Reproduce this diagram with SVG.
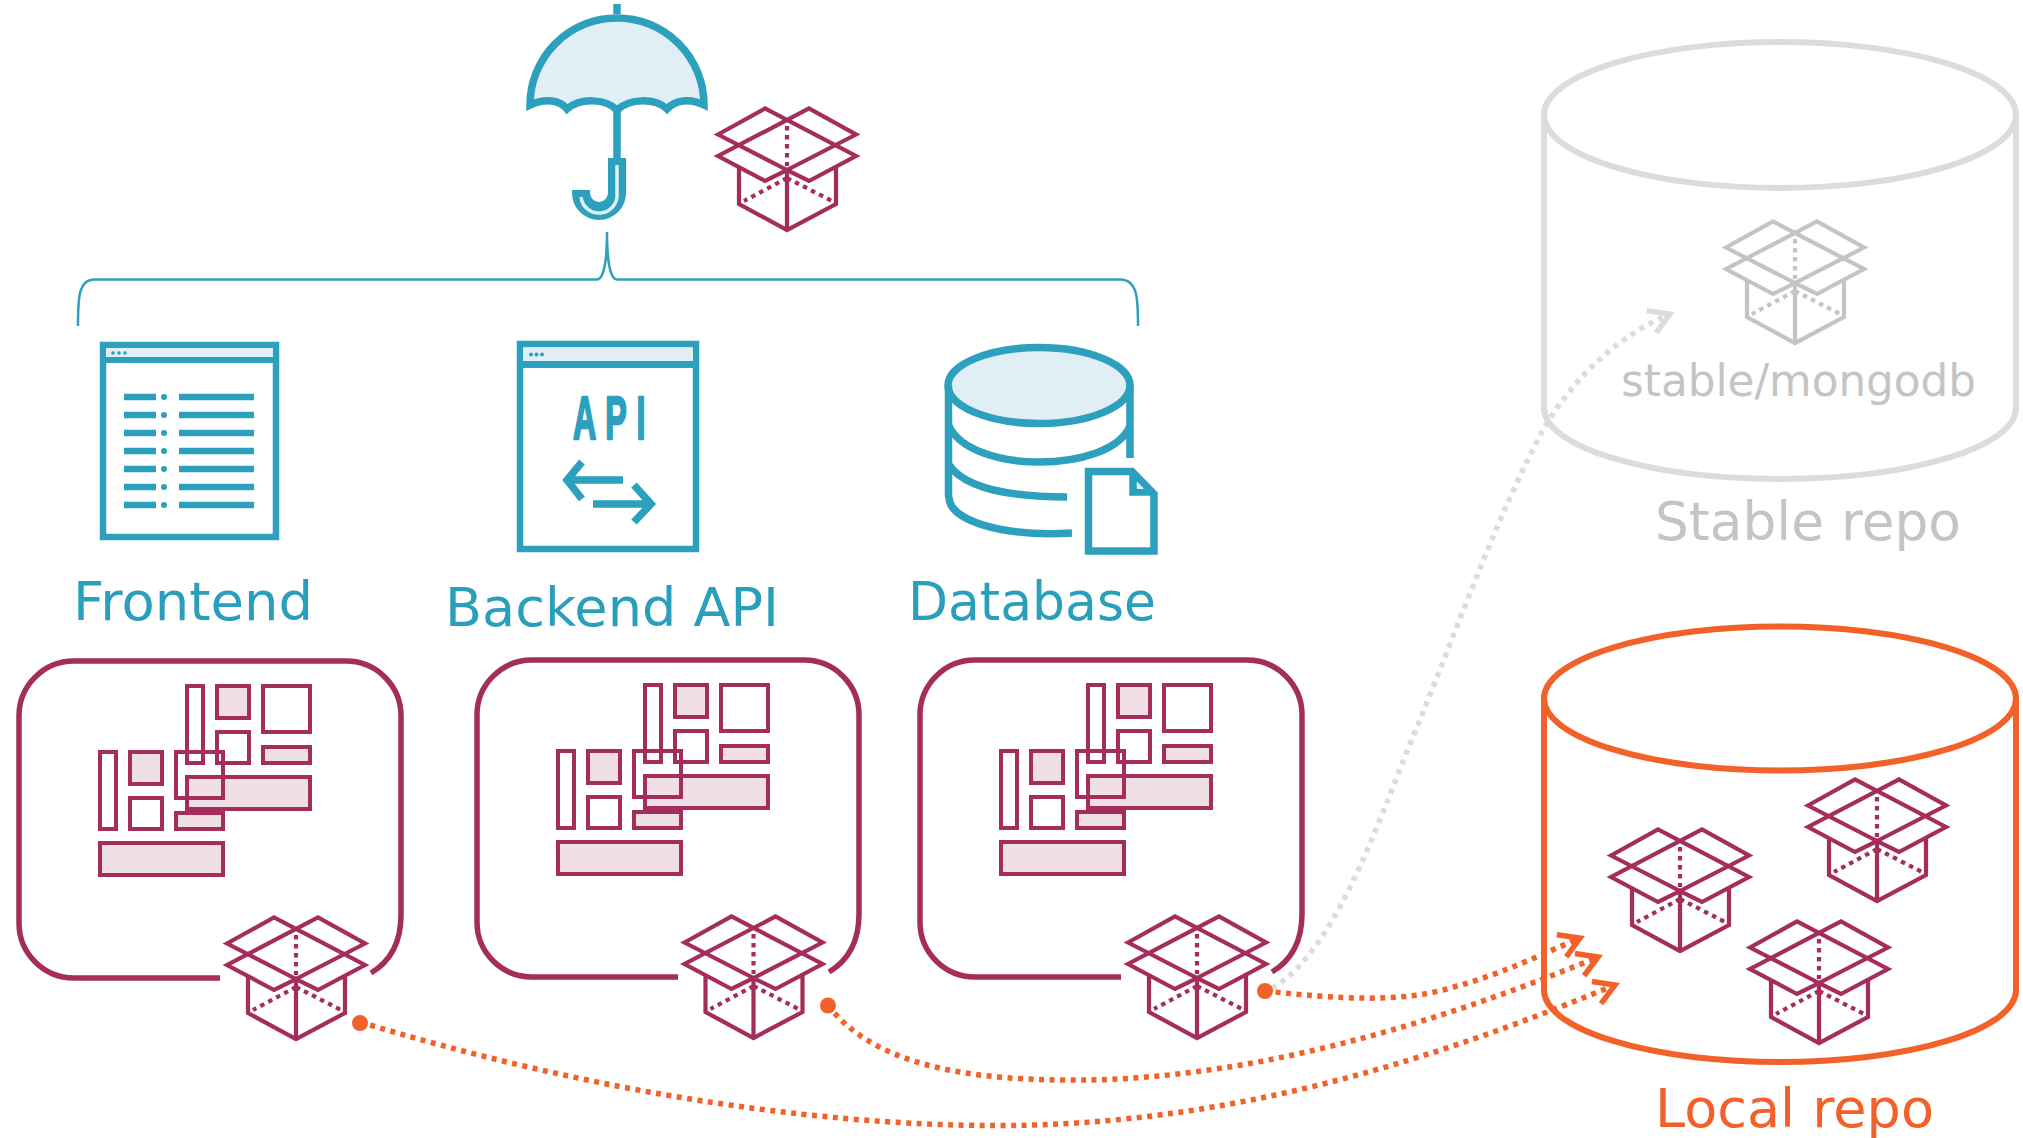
<svg xmlns="http://www.w3.org/2000/svg" xmlns:xlink="http://www.w3.org/1999/xlink" width="2023" height="1138" viewBox="0 0 2023 1138">
<style>
text{font-family:"DejaVu Sans","Liberation Sans",sans-serif}
.lbl{font-size:52.5px;fill:#2a9fbc}
.teal{fill:none;stroke:#2ca0bd}
.light{fill:#dfeff5}
.tf{fill:#2ca0bd}
.gl rect{fill:#fff;stroke:#a52d5c;stroke-width:4;fill-opacity:0}
.gl rect.p{fill:#f0e0e6;fill-opacity:1}
.panel{fill:none;stroke:#a52d5c;stroke-width:5.5}
.or{fill:none;stroke:#f26129;stroke-width:5.5;stroke-dasharray:5 5.5}
.gy{fill:none;stroke:#dcdcdc;stroke-width:5.5;stroke-dasharray:5 5.5}
.dot{fill:#f26129}
.cyl{fill:none;stroke-width:6}
</style>
<defs>
<g id="box" fill="none" stroke-width="4.2" stroke-linejoin="miter">
<path d="M-69 14.5L-22 -11.5L69 36L22 61L0 50L-22 61L-69 36L22 -11.5L69 14.5L0 50Z"/>
<path d="M-48 47V84L0 110L49 84V47M0 50V110"/>
<path d="M0 6V46M0 58L-43 81M0 58L45 81" stroke-dasharray="4.500 4.500"/>
</g>
<g id="glyph" class="gl">
<rect x="187" y="686" width="16" height="77"/>
<rect class="p" x="217" y="686" width="32" height="32"/>
<rect x="263" y="686" width="47" height="46"/>
<rect x="217" y="732" width="32" height="31"/>
<rect class="p" x="263" y="747" width="47" height="16"/>
<rect class="p" x="187" y="777" width="123" height="32"/>
<rect x="100" y="752" width="16" height="77"/>
<rect class="p" x="130" y="752" width="32" height="32"/>
<rect x="176" y="752" width="47" height="46"/>
<rect x="130" y="798" width="32" height="31"/>
<rect class="p" x="176" y="813" width="47" height="16"/>
<rect class="p" x="100" y="843" width="123" height="32"/>
</g>
<path id="panel" class="panel" d="M220 978H75A55 55 0 0 1 19 923V717A55 55 0 0 1 75 661H346A55 55 0 0 1 401 717V915Q401 955 371 973"/>
<marker id="ah" markerUnits="userSpaceOnUse" markerWidth="36" markerHeight="36" refX="30" refY="18" orient="auto" viewBox="0 0 36 36"><path d="M10 6L30 18L10 30" fill="none" stroke="#f26129" stroke-width="5.5"/></marker>
<marker id="ahg" markerUnits="userSpaceOnUse" markerWidth="36" markerHeight="36" refX="30" refY="18" orient="auto" viewBox="0 0 36 36"><path d="M10 6L30 18L10 30" fill="none" stroke="#dcdcdc" stroke-width="5.5"/></marker>
</defs>

<g id="umbrella">
<path class="light" d="M530 105A87 87 0 0 1 704 105C690 98 675 100 667 109C655 98 630 98 617 110C605 98 580 98 567 109C560 100 545 98 530 105Z"/>
<path class="teal" stroke-width="7.500" d="M530 105A87 87 0 0 1 704 105C690 98 675 100 667 109C655 98 630 98 617 110C605 98 580 98 567 109C560 100 545 98 530 105Z"/>
<path class="teal" stroke-width="7.500" d="M617 4V14M617 110V160"/>
<path class="teal" stroke-width="18" d="M617 158V193A18 18 0 0 1 581 193V190"/>
<path fill="none" stroke="#dfeff5" stroke-width="3.500" d="M617 165V193A18 18 0 0 1 581 197"/>
</g>
<g id="chart-box"><use href="#box" x="787" y="120" stroke="#a52d5c"/></g>
<g id="brace"><path class="teal" stroke-width="2.500" d="M78 326C78 300 78 279 95 279.500H597C603 279.500 607 265 607 232C607 265 611 279.500 617 279.500H1120C1138 279.500 1138 300 1138 326"/></g>

<g id="frontend">
<rect class="teal" stroke-width="6.500" x="103" y="345" width="173" height="192"/>
<rect class="light" x="106" y="348" width="167" height="9"/>
<rect class="tf" x="103" y="357" width="173" height="6"/>
<g class="tf"><circle cx="113" cy="353" r="1.800"/><circle cx="119" cy="353" r="1.800"/><circle cx="125" cy="353" r="1.800"/></g>
<path class="teal" stroke-width="6.500" d="M124 397H156M179 397H254M124 415H156M179 415H254M124 433H156M179 433H254M124 451H156M179 451H254M124 469H156M179 469H254M124 487H156M179 487H254M124 505H156M179 505H254"/>
<g class="tf"><circle cx="164" cy="397" r="3"/><circle cx="164" cy="415" r="3"/><circle cx="164" cy="433" r="3"/><circle cx="164" cy="451" r="3"/><circle cx="164" cy="469" r="3"/><circle cx="164" cy="487" r="3"/><circle cx="164" cy="505" r="3"/></g>
<text class="lbl" x="73" y="620" textLength="240" lengthAdjust="spacingAndGlyphs">Frontend</text>
</g>

<g id="backend">
<rect class="teal" stroke-width="6.500" x="520" y="344" width="176" height="205"/>
<rect class="light" x="523" y="348" width="170" height="13"/>
<rect class="tf" x="520" y="361" width="176" height="7"/>
<g class="tf"><circle cx="531" cy="354.500" r="2"/><circle cx="536.500" cy="354.500" r="2"/><circle cx="542" cy="354.500" r="2"/></g>
<text transform="translate(573 439) scale(.52 1)" x="0 62 122" y="0" font-size="62" style="font-family:'Liberation Sans',sans-serif" font-weight="700" fill="#2ca0bd" stroke="#2ca0bd" stroke-width="2.500" stroke-linejoin="round">API</text>
<path class="teal" stroke-width="7.500" d="M623 480H568M582 462L567 480L582 499M593 504H649M634 485L651 504L634 522"/>
<text class="lbl" x="445" y="626" textLength="334" lengthAdjust="spacingAndGlyphs">Backend API</text>
</g>

<g id="database">
<ellipse class="teal" style="fill:#dfeff5" stroke-width="7.500" cx="1039" cy="385.500" rx="91" ry="38"/>
<path class="teal" stroke-width="7.500" d="M948.500 385V497M1130 385V458M949 426C960 450 1000 462 1039 462C1080 462 1120 450 1130 426M949 465C965 488 1010 497 1067 497M949 497C949 520 1000 537 1072 533"/>
<path class="teal" stroke-width="7.500" d="M1088.500 551V471.500H1132L1154 494V551ZM1133 472V492H1154"/>
<path class="light" d="M1137 482L1144 489H1137Z"/>
<text class="lbl" x="908" y="620" textLength="248" lengthAdjust="spacingAndGlyphs">Database</text>
</g>

<g id="frontend-chart"><use href="#panel"/><use href="#glyph"/><use href="#box" x="296" y="929" stroke="#a52d5c"/></g>
<g id="backend-chart"><use href="#panel" x="458" y="-1"/><use href="#glyph" x="458" y="-1"/><use href="#box" x="753.500" y="928" stroke="#a52d5c"/></g>
<g id="database-chart"><use href="#panel" x="901" y="-1"/><use href="#glyph" x="901" y="-1"/><use href="#box" x="1197" y="928" stroke="#a52d5c"/></g>

<g id="stable-repo">
<ellipse class="cyl" stroke="#dcdcdc" cx="1780" cy="115" rx="236" ry="73"/>
<path class="cyl" stroke="#dcdcdc" d="M1544 115V408A236 71 0 0 0 2016 408V115"/>
<use href="#box" x="1795" y="233" stroke="#c4c4c4"/>
<text x="1621" y="396" font-size="44" fill="#c4c4c4" textLength="355" lengthAdjust="spacingAndGlyphs">stable/mongodb</text>
<text x="1655" y="540" font-size="52.500" fill="#c4c4c4" textLength="306" lengthAdjust="spacingAndGlyphs">Stable repo</text>
</g>

<g id="local-repo">
<ellipse class="cyl" stroke="#f26129" cx="1780" cy="698.500" rx="236" ry="72"/>
<path class="cyl" stroke="#f26129" d="M1544 698V990A236 72 0 0 0 2016 990V698"/>
<use href="#box" x="1680" y="841" stroke="#a52d5c"/>
<use href="#box" x="1877" y="791" stroke="#a52d5c"/>
<use href="#box" x="1819" y="933" stroke="#a52d5c"/>
<text x="1655" y="1127" font-size="52.500" fill="#f26129" textLength="279" lengthAdjust="spacingAndGlyphs">Local repo</text>
</g>

<g id="connectors">
<path class="gy" marker-end="url(#ahg)" d="M1272 988C1340 950 1385 800 1420 720C1460 620 1500 510 1543 430C1575 375 1620 335 1670 314"/>
<path class="or" marker-end="url(#ah)" d="M360 1022C650 1110 900 1132 1060 1124C1290 1112 1480 1040 1615 985"/>
<path class="or" marker-end="url(#ah)" d="M828 1005C880 1075 1000 1081 1090 1080C1280 1076 1470 1010 1598 957"/>
<path class="or" marker-end="url(#ah)" d="M1265 991C1340 999 1400 1003 1450 988C1500 975 1540 955 1580 938"/>
<circle class="dot" cx="360" cy="1023" r="8"/><circle class="dot" cx="828" cy="1005.500" r="8"/><circle class="dot" cx="1265" cy="991" r="8"/>
</g>
</svg>
